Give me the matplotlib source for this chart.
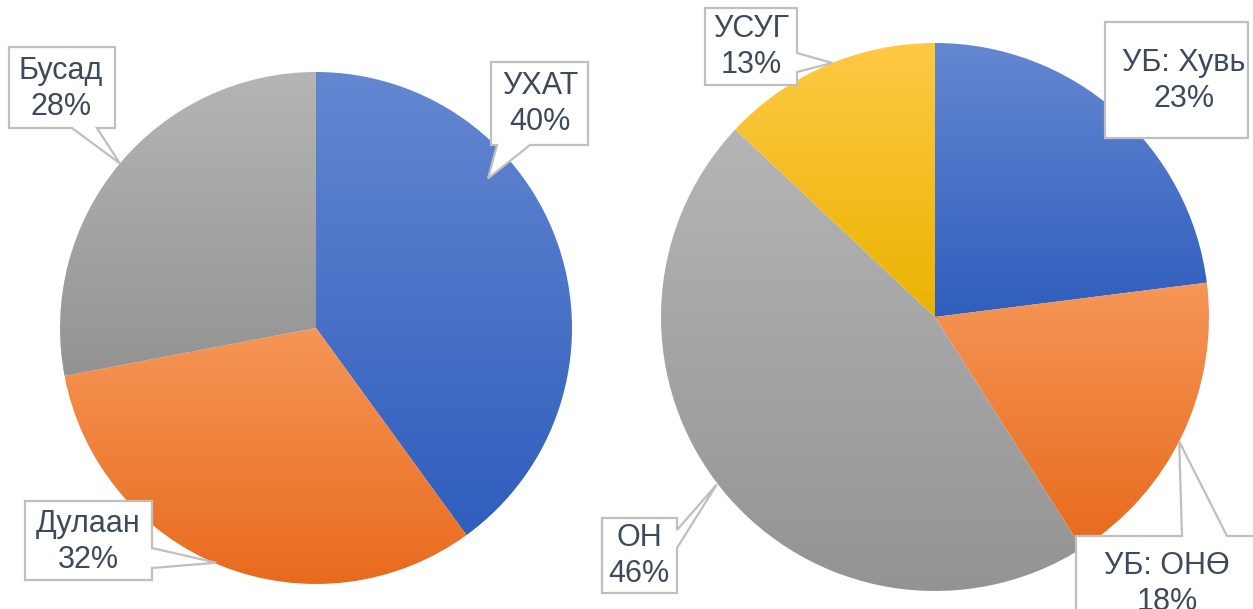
import numpy as np
import matplotlib.pyplot as plt
from matplotlib.patches import Polygon
from matplotlib.colors import LinearSegmentedColormap

plt.rcParams['font.family'] = ['Liberation Sans', 'DejaVu Sans']

# --- data ---
left_labels = ['УХАТ', 'Дулаан', 'Бусад']
left_values = [40, 32, 28]
right_labels = ['УБ: Хувь', 'УБ: ОНӨ', 'ОН', 'УСУГ']
right_values = [23, 18, 46, 13]

# gradient (bottom, top)
GRAD = {
    'blue': ('#2F5EBD', '#6487D1'),
    'orange': ('#E86A1C', '#F69657'),
    'gray': ('#939393', '#B5B5B5'),
    'yellow': ('#EAB300', '#FFC945'),
}
left_colors = ['blue', 'orange', 'gray']
right_colors = ['blue', 'orange', 'gray', 'yellow']

W, H = 1253, 609
TEXT_C = '#3E4A5B'
EDGE_C = '#BFBFBF'

# layout, pixel coords (y down)
LEFT_C, LEFT_R = (316, 328), 256
RIGHT_C, RIGHT_R = (935, 317), 274

# box (x0, y0, x1, y1), text center, pointer side, base (a, b), tip angle, tip radius
left_callouts = [
    ((491, 62, 588, 145), (540, 104), 'bottom', (497, 530), 41, 228),
    ((25, 501, 152, 580), (88, 542), 'right', (548, 568), 247, 255),
    ((9, 47, 115, 128), (61, 89), 'bottom', (72, 97), 140, 256),
]
right_callouts = [
    ((1105, 22, 1248, 138), (1184, 81), None, None, None, None),
    ((1076, 536, 1275, 640), (1167, 584), 'top', (1182, 1227), -27, 274),
    ((602, 518, 677, 593), (639, 556), 'right', (530, 548), 217.5, 275),
    ((705, 8, 797, 85), (751, 47), 'right', (53, 72), 112, 274),
]


def gradient_pie(ax, values, colors, center_px, radius):
    cx, cy = center_px[0], H - center_px[1]
    wedges, _ = ax.pie(values, startangle=90, counterclock=False,
                       center=(cx, cy), radius=radius,
                       wedgeprops=dict(linewidth=0))
    for w, c in zip(wedges, colors):
        w.set_facecolor('none')
        v = w.get_path().vertices
        cmap = LinearSegmentedColormap.from_list(c, GRAD[c])
        im = ax.imshow(np.linspace(0, 1, 256).reshape(-1, 1), cmap=cmap,
                       origin='lower', aspect='auto', interpolation='bilinear',
                       extent=(v[:, 0].min(), v[:, 0].max(), v[:, 1].min(), v[:, 1].max()),
                       zorder=1)
        im.set_clip_path(w)


def callout(ax, label, value, box, tc, side, base, ang, r, center_px):
    x0, y0, x1, y1 = box
    pts = [(x0, y0)]
    if side is not None:
        tip = (center_px[0] + r * np.cos(np.radians(ang)),
               center_px[1] - r * np.sin(np.radians(ang)))
        a, b = base
    if side == 'top':
        pts += [(a, y0), tip, (b, y0)]
    pts.append((x1, y0))
    if side == 'right':
        pts += [(x1, a), tip, (x1, b)]
    pts.append((x1, y1))
    if side == 'bottom':
        pts += [(b, y1), tip, (a, y1)]
    pts.append((x0, y1))
    if side == 'left':
        pts += [(x0, b), tip, (x0, a)]
    pts = [(px, H - py) for px, py in pts]
    ax.add_patch(Polygon(pts, closed=True, facecolor='white', edgecolor=EDGE_C,
                         linewidth=1.6, joinstyle='miter', zorder=3))
    ax.text(tc[0], H - tc[1], f'{label}\n{value}%', ha='center', va='center',
            fontsize=22, color=TEXT_C, linespacing=1.28, zorder=4)


fig = plt.figure(figsize=(W / 100, H / 100), dpi=100)
ax = fig.add_axes([0, 0, 1, 1])

gradient_pie(ax, left_values, left_colors, LEFT_C, LEFT_R)
gradient_pie(ax, right_values, right_colors, RIGHT_C, RIGHT_R)

for lab, val, c in zip(left_labels, left_values, left_callouts):
    callout(ax, lab, val, *c, LEFT_C)
for lab, val, c in zip(right_labels, right_values, right_callouts):
    callout(ax, lab, val, *c, RIGHT_C)

ax.set_xlim(0, W)
ax.set_ylim(0, H)
ax.set_aspect('equal')
ax.axis('off')

fig.savefig('out.png', dpi=100, facecolor='white')
